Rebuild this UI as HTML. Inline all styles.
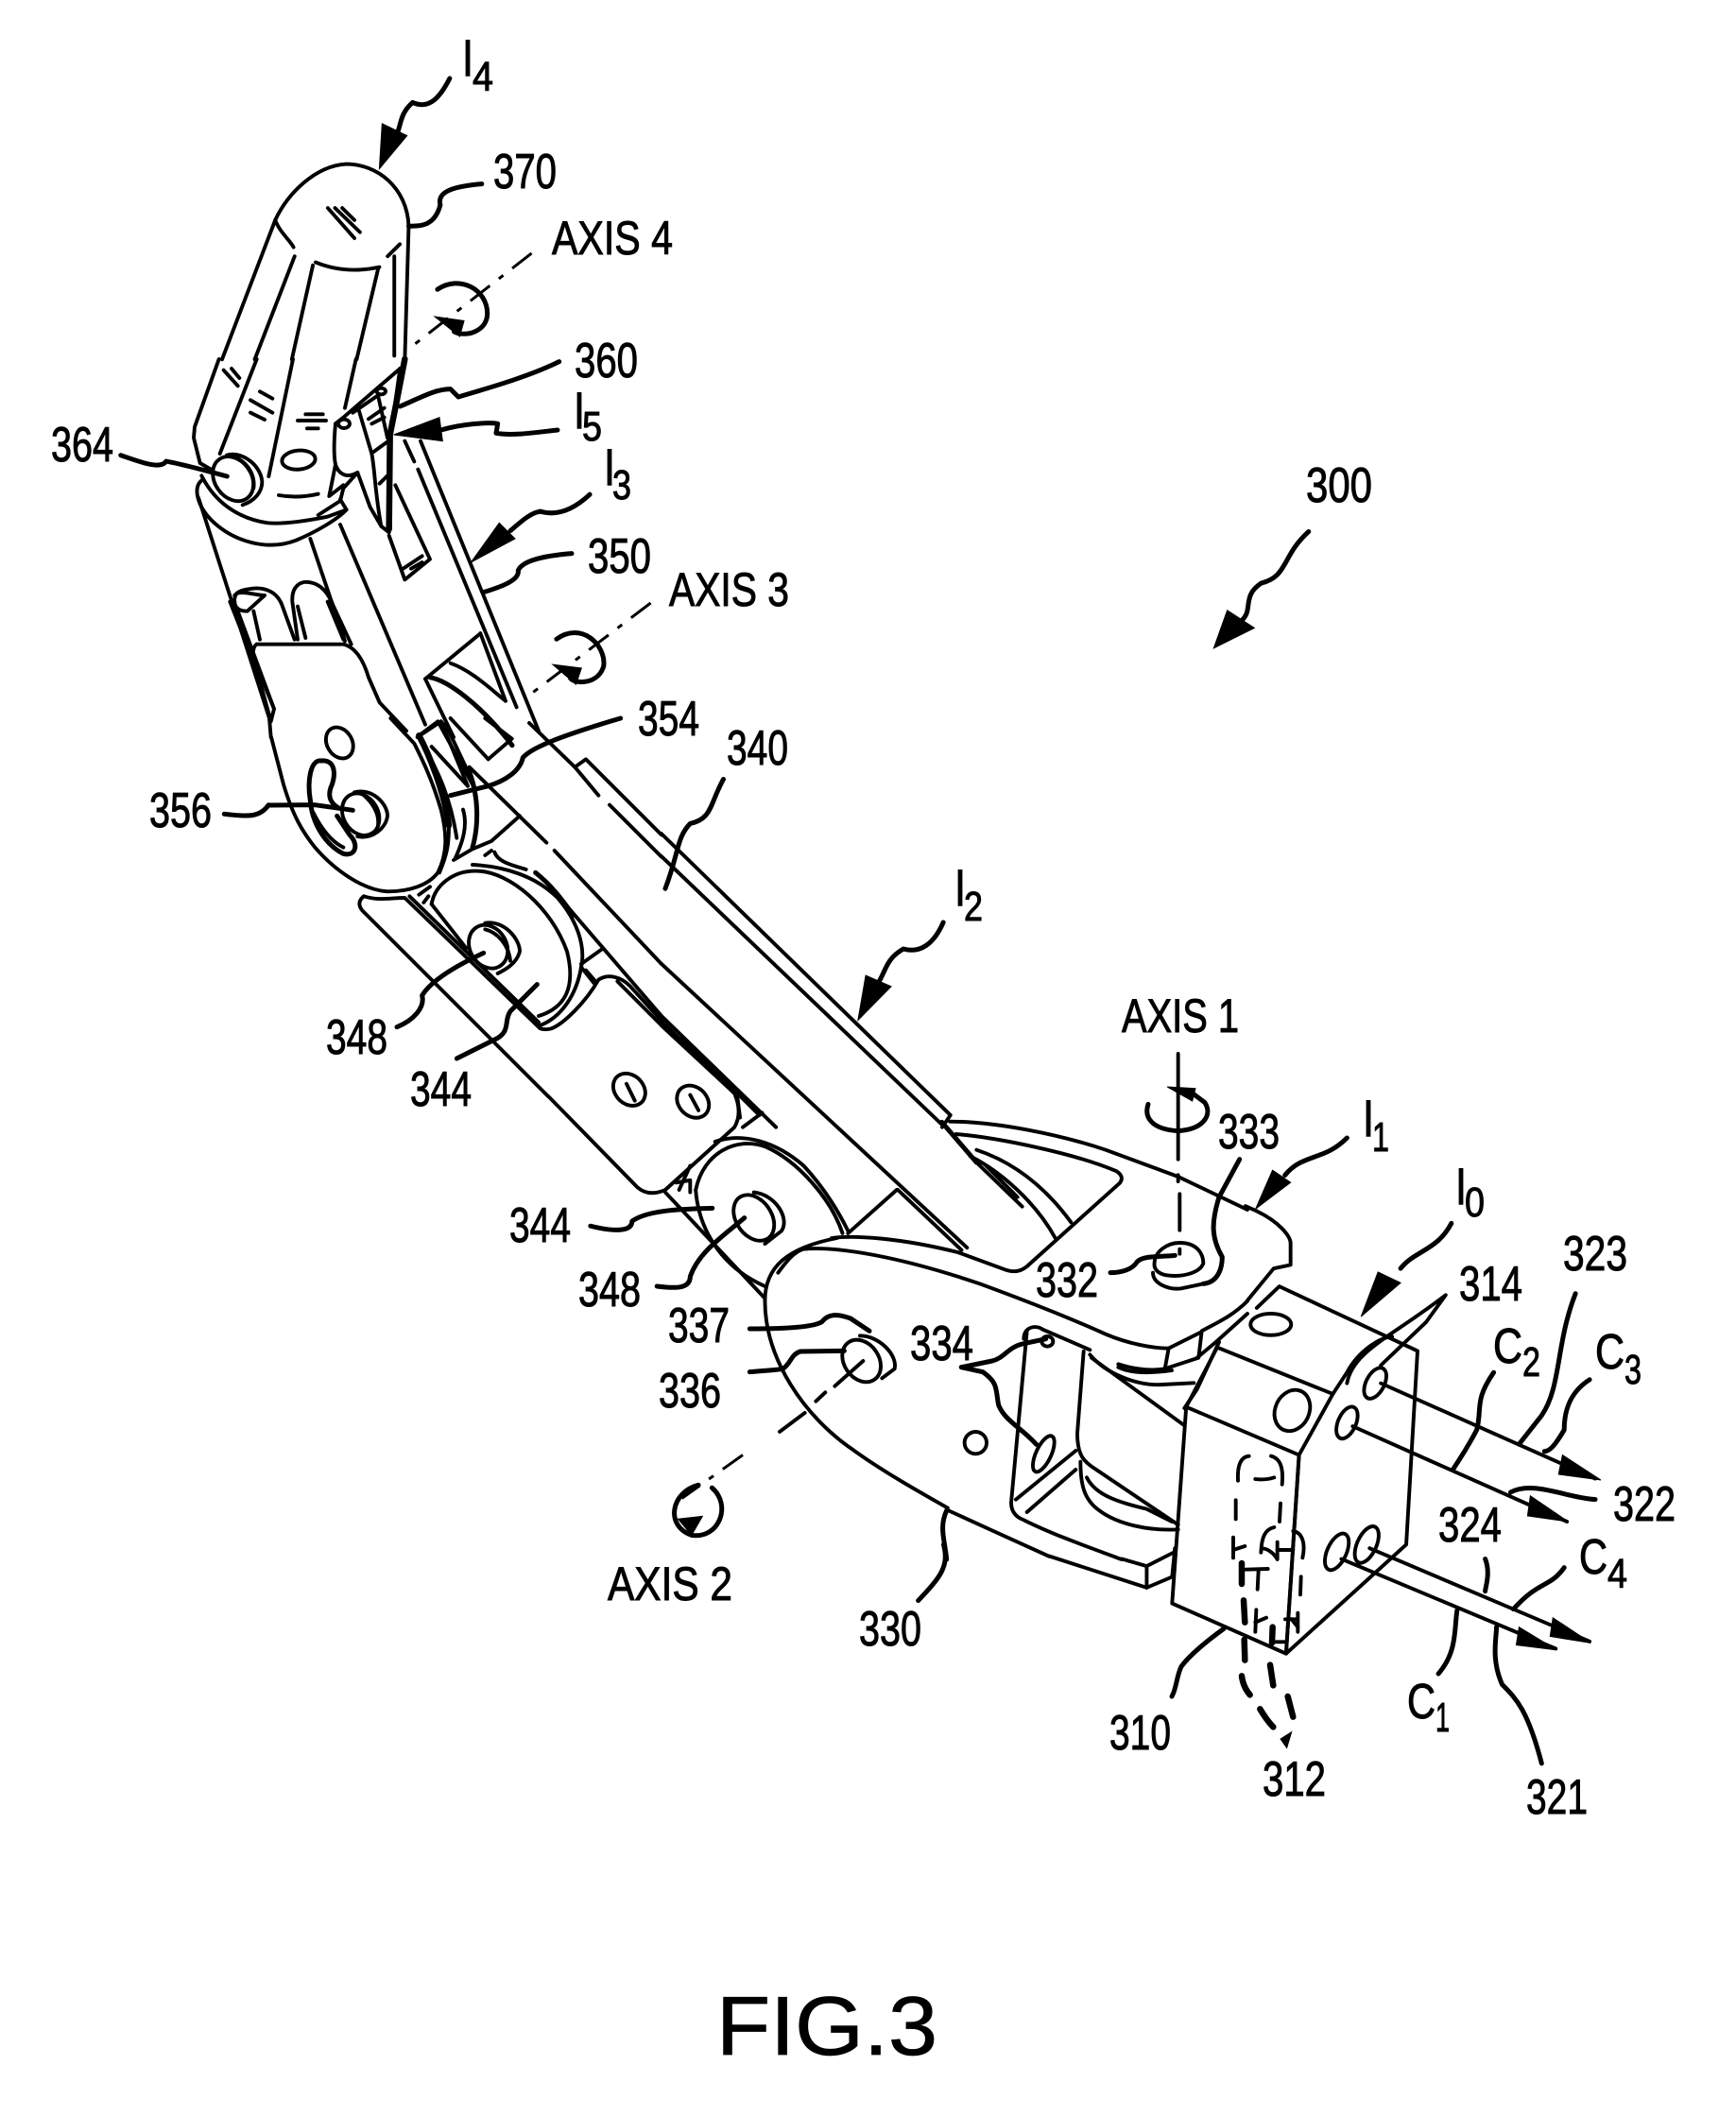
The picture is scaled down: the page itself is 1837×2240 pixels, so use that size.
<!DOCTYPE html>
<html><head><meta charset="utf-8"><style>
html,body{margin:0;padding:0;background:#fff}
svg{display:block}
path,line,ellipse,polyline{fill:none;stroke:#000;stroke-width:3.9;stroke-linecap:round;stroke-linejoin:round;vector-effect:non-scaling-stroke}
.f{fill:#fff}
.k{fill:#000;stroke:#000;stroke-width:1;vector-effect:non-scaling-stroke}
.d{stroke-dasharray:26 12 6 12;stroke-linecap:butt;stroke-width:3}
.t{stroke-width:5}
.m{stroke-width:6.5}
text{font-family:"Liberation Sans",sans-serif;font-size:52px;fill:#000;stroke:#000;stroke-width:1px}
text.s{font-size:44px}
text.a{font-size:50px}
text.fig{font-size:88px;stroke:#000;stroke-width:.8px}
</style></head><body>
<svg xmlns="http://www.w3.org/2000/svg" width="1837" height="2240" viewBox="0 0 1837 2240">
<rect width="1837" height="2240" fill="#fff"/>

<!-- upper finger -->
<g transform="scale(.586,.638)">
<path d="M401,596 L497,365 C520,320 570,275 625,272 C680,272 735,310 738,375 L731,596"/>
<path d="M497,365 C505,385 525,400 530,410"/>
<path d="M570,435 C610,450 650,450 685,443"/>
<path d="M700,425 L722,405"/>
<path d="M532,425 L460,596"/><path d="M565,440 L527,596"/><path d="M683,445 L644,596"/>
<path d="M712,425 L712,590"/>
<path d="M592,345 L640,395"/><path d="M605,345 L650,385"/><path d="M618,345 L640,365"/>
<path class="t" d="M812,130 C790,170 770,180 745,170 C720,190 725,210 715,225"/>
<polygon class="k" points="690,205 735,225 685,280"/>
<path class="t" d="M870,305 C810,310 790,320 795,340 C785,375 760,375 738,375"/>
<path class="d" d="M960,420 L750,570"/>
<path class="t" d="M790,480 C830,455 880,480 880,520 C880,550 840,560 820,550"/>
<polygon class="k" points="785,525 838,532 830,558"/>
<path class="t" d="M218,755 C250,765 290,780 300,765 C330,770 370,780 410,790"/>
<path class="t" d="M1065,820 C1030,850 1000,855 975,848"/>
<path class="d" d="M1175,1000 L960,1150"/>
<path class="t" d="M1005,1060 C1050,1030 1095,1070 1090,1105 C1080,1135 1040,1135 1030,1125"/>
<polygon class="k" points="998,1102 1050,1108 1040,1135"/>
<path class="t" d="M405,1350 C450,1355 470,1355 485,1335"/>
</g>

<!-- region A : link 3 -->
<g transform="translate(190,380) scale(.33333)">
<path d="M125,0 L48,215 L45,250 L65,330 L100,350"/>
<path d="M245,0 L128,300"/><path d="M360,0 L283,372"/><path d="M560,0 L525,155"/>
<path d="M140,35 L185,85"/><path d="M165,30 L190,60"/>
<path d="M255,103 L295,125"/><path d="M225,130 L295,170"/><path d="M225,170 L270,192"/>
<path d="M375,195 L465,195"/><path d="M400,175 L455,175"/><path d="M405,220 L440,220"/>
<ellipse cx="378" cy="320" rx="53" ry="30" transform="rotate(-5 378 320)"/>
<path d="M315,432 C360,440 400,437 440,428"/>
<ellipse cx="170" cy="380" rx="58" ry="76" transform="rotate(-35 170 380)"/>
<path d="M150,305 C200,290 260,340 262,390 C262,420 240,450 200,463"/>
<path d="M185,315 C220,335 240,370 235,410"/>
<path d="M70,385 C40,410 60,470 100,510 C170,580 280,610 370,575 C430,550 500,510 530,478 L510,445"/>
<path d="M70,370 C110,450 180,505 280,520 C340,525 420,510 470,500 L530,478"/>
<path d="M440,495 L510,450 L520,410 L565,360 L605,470 L640,530 L665,550"/>
<path d="M495,205 L520,185 L700,30"/>
<path d="M495,205 C490,260 490,310 495,335 C505,365 530,380 565,360"/>
<path d="M495,335 L475,435 L520,400"/>
<ellipse cx="522" cy="205" rx="18" ry="14"/>
<path d="M570,165 L610,300 C620,350 620,420 640,530"/>
<path d="M550,170 L630,115 L660,250"/>
<path d="M600,190 L650,155"/><path d="M610,205 L650,185"/>
<path d="M615,295 L670,255"/><path d="M635,395 L665,365"/>
<ellipse cx="640" cy="102" rx="14" ry="10"/>
<path d="M700,30 L670,240"/>
<path class="m" d="M715,0 L690,130 L668,240 L665,540"/>
<path d="M665,560 L715,700 L795,635 L685,400"/>
<path d="M710,665 L770,625"/><path d="M735,665 L770,645"/>
<path d="M765,260 L1140,1180"/>
<path d="M715,260 L745,325"/><path d="M757,350 L1070,1105"/>
<path d="M955,870 L1035,1085"/>
<polygon class="k" points="825,185 835,260 680,240"/>
<path class="t" d="M700,150 C760,125 810,95 860,95 L885,120 C950,100 1100,60 1205,8"/>
<path class="t" d="M830,225 C900,205 980,200 1010,205 L1005,235 C1060,245 1150,230 1200,225"/>
<polygon class="k" points="1015,520 1065,570 925,645"/>
<path class="t" d="M1050,545 C1090,510 1120,485 1145,484"/>
<path class="t" d="M965,740 C1030,720 1080,700 1075,670 C1090,640 1150,625 1245,617"/>
<path d="M60,440 L285,1140 L290,1200"/>
<path d="M160,770 L235,960"/>
<path d="M185,800 L300,1110 L290,1150 L235,950"/>
<path d="M175,790 C170,745 180,735 220,730 C270,720 310,740 325,780 L365,890"/>
<path d="M175,750 C190,730 240,750 270,750 L215,800 C190,800 175,790 175,770"/>
<path d="M235,800 L255,890"/>
<path d="M375,890 L358,770 C355,720 385,700 420,710 C460,720 480,760 490,790 L525,895"/>
<path d="M400,885 L375,785"/>
<path d="M475,755 L545,905"/><path d="M470,770 L520,890"/>
<path d="M415,570 L520,880"/>
<path d="M510,525 L780,1160"/>
<path d="M245,905 L520,905 C560,915 585,960 600,1010 L635,1090 L720,1180"/>
<path d="M245,905 Q230,915 235,950 L300,1110"/>
<path d="M780,1015 L950,875"/>
<path d="M780,1015 L870,1200"/>
<path class="t" d="M795,1010 C850,1020 950,1090 1056,1226"/>
<path d="M860,965 C930,990 990,1050 1035,1085"/>
<path d="M830,1150 L755,1200"/><path d="M830,1150 L870,1200"/>
</g>

<!-- region D : disc 1 -->
<g transform="translate(300,760) scale(.33333)">
<path d="M-39,60 L0,210 C30,310 60,360 100,410 C160,480 250,545 330,550 C400,550 460,530 490,490 C520,430 520,370 500,290 C470,190 440,130 415,80 L340,0"/>
<ellipse cx="178" cy="78" rx="40" ry="52" transform="rotate(-30 178 78)"/>
<path class="t" d="M85,260 C75,200 85,130 120,135 C170,130 165,190 150,220 C140,250 150,270 175,285"/>
<path class="t" d="M85,260 C90,330 130,400 190,430 C230,440 240,400 210,370 L170,310"/>
<path d="M95,300 C120,350 150,390 190,410"/>
<ellipse cx="245" cy="305" rx="55" ry="70" transform="rotate(-30 245 305)"/>
<path d="M225,235 C280,220 330,270 330,310 C325,350 280,385 235,375"/>
<path d="M250,240 C280,265 305,300 300,340"/>
<path class="t" d="M-45,276 L100,275 L220,292"/>
<path d="M430,55 L490,10 L600,210"/>
<path class="m" d="M430,55 C460,110 510,230 525,340"/>
<path d="M450,95 C490,170 530,250 550,380"/>
<path d="M470,90 L585,215"/><path d="M500,10 L585,215"/><path d="M520,30 L600,200"/>
<path class="t" d="M590,170 C620,250 620,340 600,410"/>
<path d="M570,290 C585,340 570,390 545,445"/>
<path d="M525,340 C525,400 520,430 495,490"/>
<path d="M540,450 L600,415 L660,390 L750,310"/>
<path class="t" d="M530,245 L650,215 C700,200 750,170 760,125 C790,90 900,50 1070,0"/>
<path d="M650,130 L725,65 L640,0"/><path d="M650,130 L530,0"/>
<path d="M780,15 L925,155"/>
<path d="M590,155 L835,395"/><path d="M860,420 L1200,780"/>
<path d="M925,155 L960,130 L1200,370"/><path d="M925,155 L1000,245"/><path d="M1035,275 L1200,440"/>
<path d="M470,590 C480,530 540,480 620,485 C720,490 850,600 900,740 C930,860 890,920 810,945"/>
<path d="M600,465 C700,470 800,500 870,570 C930,640 960,720 945,790 C930,880 880,950 815,975"/>
<path class="t" d="M800,490 C850,530 880,570 920,625"/>
<path d="M670,425 C680,455 720,465 770,480"/><path d="M660,420 L640,435"/>
<path d="M860,550 L1015,730 L1200,945"/><path d="M1015,730 L945,780"/>
<path d="M960,800 L990,835"/><path d="M945,790 L985,840"/>
<path d="M255,565 C300,580 340,570 385,570 L815,985 Q830,990 850,985 C890,970 960,900 1000,830 C1030,810 1070,820 1100,850 L1200,960"/>
<path d="M1060,835 L1200,975"/>
<path d="M400,565 L810,965"/><path d="M470,590 L580,730"/>
<path d="M255,565 Q230,585 250,610 L840,1200"/>
<path d="M430,560 L465,535"/><path d="M445,585 L460,565"/>
<ellipse cx="650" cy="725" rx="58" ry="72" transform="rotate(-30 650 725)"/>
<path d="M640,650 C700,640 750,700 750,740 C740,780 700,800 680,810"/>
<path d="M640,670 C680,680 715,720 720,770"/>
<path class="t" d="M360,980 C410,960 450,920 440,880 C470,830 560,780 635,745"/>
<path class="t" d="M550,1080 L680,1015 C720,990 700,960 720,930 L805,845"/>
</g>

<!-- crop 2 : link 2 -->
<g transform="translate(200,800) scale(.586,.51)">
<path d="M853,161 L1375,745 L1360,770"/>
<path d="M853,208 L1360,765"/>
<path d="M853,431 L1405,1020"/>
<path d="M1280,900 L1395,1025"/>
<path d="M1190,990 L1278,900"/>
<path d="M1000,770 L1035,740"/>
<path d="M853,539 L1060,770"/>
<path d="M890,585 L1030,745"/>
<path d="M649,706 L810,895 Q830,915 860,900 L985,770 Q1000,740 985,700 L853,549"/>
<path d="M853,559 L990,705 L995,750"/>
<ellipse cx="795" cy="692" rx="27" ry="35" transform="rotate(-28 795 692)"/>
<ellipse cx="910" cy="717" rx="27" ry="35" transform="rotate(-28 910 717)"/>
<path d="M790,680 L805,715"/><path d="M905,703 L920,735"/>
<path d="M915,900 C930,820 990,790 1040,810 C1100,840 1160,920 1180,990"/>
<path d="M950,800 C1000,780 1060,800 1110,850 C1150,900 1175,950 1190,985"/>
<path d="M915,900 C920,980 960,1060 1040,1100"/>
<path d="M860,905 L1040,1125"/>
<path d="M905,850 L885,900"/>
<path d="M880,885 L905,880 L905,905"/>
<ellipse cx="1020" cy="958" rx="33" ry="50" transform="rotate(-25 1020 958)"/>
<path d="M1020,905 C1060,910 1085,960 1070,985 L1040,1012"/>
<path d="M1040,1130 C1040,1250 1110,1370 1200,1440 C1260,1490 1340,1540 1370,1560"/>
<path d="M1040,1130 C1040,1060 1080,1020 1170,1000"/>
<path class="t" d="M965,48 C940,100 945,130 905,140 C880,170 885,200 860,275"/>
<path class="t" d="M1362,345 C1345,390 1320,410 1290,400 C1260,420 1260,440 1245,470"/>
<polygon class="k" points="1222,455 1268,478 1208,548"/>
<path class="t" d="M725,975 C760,985 800,990 800,965 C830,940 900,940 945,938"/>
<path class="t" d="M845,1100 C880,1105 905,1105 905,1080 C920,1030 960,1000 1003,958"/>
<path class="d" d="M1000,1450 L890,1540"/>
</g>

<!-- region C : fork -->
<g transform="translate(820,1150) scale(.33333)">
<path class="t" d="M530,112 L640,240"/>
<path d="M640,240 L785,380"/><path d="M670,250 L770,350"/>
<path d="M555,110 C700,110 900,150 1050,200 L1280,285 L1500,390"/>
<path d="M575,150 C700,160 950,210 1085,268 Q1110,285 1095,305 L800,570 Q770,595 730,580 L580,525 C400,480 250,470 180,480"/>
<path d="M640,200 C760,240 860,320 940,430"/>
<path d="M620,220 C720,270 830,370 890,480"/>
<path d="M10,590 C40,550 60,525 90,515 C200,505 400,540 650,625 C800,680 950,740 1050,785 C1120,815 1200,830 1250,830 L1350,780"/>
<path d="M1250,830 L1238,895 L1345,860 L1355,775 C1400,750 1450,730 1500,680"/>
<path d="M1500,720 L1400,810 L1340,860"/>
<path d="M1240,895 C1180,905 1120,890 1090,880"/>
<path d="M549,1344 C650,1390 780,1450 870,1490"/>
<ellipse cx="275" cy="870" rx="55" ry="72" transform="rotate(-35 275 870)"/>
<path d="M270,790 C330,790 390,850 380,895 L340,925"/>
<path d="M280,870 L190,950"/><path d="M160,970 L130,998"/><path d="M95,1035 L15,1095"/>
<path class="t" d="M-80,768 C60,768 130,760 150,745 C170,720 200,720 240,735 L300,775"/>
<path class="t" d="M-80,905 C-30,900 0,900 25,895 C50,880 50,850 80,840 L220,838"/>
<path d="M800,775 L750,1320 Q750,1360 790,1375 C900,1430 1050,1480 1100,1500"/>
<path d="M790,800 C790,760 830,755 850,770 L1000,835"/>
<ellipse cx="865" cy="808" rx="18" ry="16"/>
<path d="M980,840 L960,1100 C960,1170 980,1190 1020,1215 L1280,1390"/>
<path d="M970,1190 C970,1260 980,1310 1030,1345 C1090,1390 1190,1410 1280,1405"/>
<path d="M990,1240 C1020,1300 1100,1320 1180,1340 L1260,1380"/>
<path d="M765,1310 L955,1155"/><path d="M800,1350 L955,1215"/>
<ellipse cx="853" cy="1165" rx="24" ry="62" transform="rotate(25 853 1165)"/>
<ellipse cx="637" cy="1130" rx="35" ry="35"/>
<path class="t" d="M592,890 L690,870 C730,860 740,825 790,815 L860,800"/>
<path class="t" d="M592,890 L660,905 C710,940 700,960 710,1010 C730,1060 780,1080 830,1135"/>
<path d="M1000,850 C1050,910 1150,950 1230,945 L1330,940"/>
<path d="M1090,890 C1130,910 1190,910 1260,900"/>
<path d="M1005,860 L1300,1075"/>
<path d="M1410,810 L1340,960 L1300,1020"/>
<path d="M1205,570 C1200,520 1250,495 1285,495 C1340,495 1360,530 1360,560 C1350,590 1300,600 1270,600 C1230,600 1210,590 1205,570"/>
<path d="M1200,590 C1200,625 1250,645 1290,640 L1360,625"/>
<path class="t" d="M1360,625 C1410,620 1420,570 1420,540 C1385,480 1385,430 1410,350 L1475,230"/>
<path class="t" d="M1065,590 C1100,590 1135,580 1150,555 C1170,535 1220,540 1270,535"/>
<path d="M1280,-105 L1280,230"/><path d="M1280,280 L1280,300"/><path d="M1285,340 L1285,455"/><path d="M1285,515 L1285,530"/>
<path class="t" d="M1185,55 C1170,100 1200,135 1280,140 C1360,135 1390,90 1365,50 L1325,20"/>
<polygon class="k" points="1245,0 1335,5 1325,45"/>
<path class="t" d="M545,1345 C520,1400 540,1440 545,1500"/>
</g>

<!-- crop 3 : block -->
<g transform="translate(900,1050) scale(.597,.7589)">
<path d="M700,298 L720,305 C760,320 780,340 780,350 L780,380 L750,385 L703,430"/>
<path d="M352,786 L525,830 L570,815"/>
<path d="M481,790 L525,800"/>
<path d="M525,800 L525,830"/><path d="M525,800 L575,780"/><path d="M570,815 L575,775"/>
<path d="M595,578 L795,645 L772,922 L570,852 Z"/>
<path d="M595,578 L650,495 L855,560 L795,645"/>
<path d="M795,645 L772,922 L985,770 L1005,500 L760,410 L720,440"/>
<ellipse cx="745" cy="463" rx="36" ry="15"/>
<ellipse cx="783" cy="583" rx="33" ry="27" transform="rotate(-30 783 583)"/>
<path d="M855,560 L880,530 C900,500 940,480 960,480"/>
<path d="M880,545 C890,500 960,480 1055,422 L1020,460 L940,520"/>
<ellipse cx="930" cy="545" rx="25" ry="15" transform="rotate(-50 930 545)"/>
<ellipse cx="880" cy="600" rx="25" ry="15" transform="rotate(-55 880 600)"/>
<ellipse cx="862" cy="780" rx="29" ry="16" transform="rotate(-55 862 780)"/>
<ellipse cx="915" cy="770" rx="29" ry="16" transform="rotate(-55 915 770)"/>
<path d="M940,545 L1320,678"/>
<path d="M890,605 L1270,738"/>
<path d="M920,775 L1310,905"/>
<path d="M870,790 L1250,915"/>
<polygon class="k" points="1262,645 1330,680 1255,672"/>
<polygon class="k" points="1205,702 1272,738 1200,730"/>
<polygon class="k" points="1245,872 1312,907 1240,898"/>
<polygon class="k" points="1185,885 1252,917 1180,910"/>
<path class="t" d="M880,203 C840,235 800,225 770,255"/>
<polygon class="k" points="748,248 780,265 718,302"/>
<path class="t" d="M1065,322 C1040,360 1000,360 975,385"/>
<polygon class="k" points="935,390 975,405 905,452"/>
<path class="t" d="M120,848 C160,815 175,800 165,770"/>
<path class="t" d="M1140,530 C1105,570 1120,580 1110,610 C1090,640 1080,650 1068,665"/>
<path class="t" d="M1285,420 C1250,490 1260,550 1225,590 L1185,630"/>
<path class="t" d="M1310,540 C1270,560 1265,590 1265,610 C1250,630 1240,640 1230,640"/>
<path class="t" d="M1320,707 C1270,705 1210,680 1170,697"/>
<path class="t" d="M1125,790 C1135,810 1125,830 1125,835"/>
<path class="t" d="M1265,802 C1240,830 1220,820 1175,860"/>
<path class="t" d="M1042,950 C1075,920 1070,890 1075,862"/>
<path class="t" d="M1225,1075 C1200,1000 1180,985 1155,965 C1135,930 1145,900 1145,885"/>
</g>

<!-- region B : hidden lines -->
<g transform="translate(1240,1500) scale(.33333)">
<path d="M245,122 C215,125 208,160 210,200"/>
<path d="M315,122 C345,130 355,160 350,212"/>
<path d="M265,195 C290,198 310,195 325,190"/>
<path d="M203,262 L203,322"/><path d="M345,272 L342,330"/>
<path d="M325,348 C295,355 285,380 283,428"/>
<path d="M195,380 L195,445"/><path d="M195,420 L232,408"/>
<path d="M285,415 C310,415 330,440 335,450 L335,395"/>
<path d="M335,420 L385,420"/>
<path d="M385,360 C415,365 425,400 415,445"/>
<path class="m" d="M222,462 L222,528"/>
<path class="m" d="M228,580 L232,650"/>
<path d="M235,482 L305,480"/><path d="M275,485 L272,545"/>
<path d="M410,505 L408,562"/>
<path d="M268,610 L265,680"/><path d="M265,650 L300,635"/>
<path class="m" d="M320,665 L318,715"/>
<path d="M320,712 L360,712"/><path d="M360,640 L395,640"/><path d="M400,620 L400,680"/><path d="M380,640 L400,665"/>
<path class="m" d="M230,705 L232,770"/>
<path class="m" d="M222,820 C225,845 235,865 248,880"/>
<path class="m" d="M280,925 C295,950 310,970 322,982"/>
<path class="m" d="M312,785 L322,850"/>
<path class="m" d="M368,885 L385,950"/>
<polygon class="k" points="345,1020 380,998 365,1048"/>
<path class="t" d="M0,885 C15,860 15,820 30,790 C60,750 110,710 165,670"/>
</g>

<g transform="scale(1.435)">
<path class="t" d="M965,392 C945,410 950,425 930,430 C915,440 925,450 915,458"/>
<polygon class="k" points="905,450 925,463 895,478"/>
<path class="t" d="M515,1095 C495,1100 490,1125 510,1132 C530,1135 540,1110 525,1097"/>
<polygon class="k" points="500,1120 518,1118 510,1132"/>
</g>

<!-- labels -->
<text x="490" y="80" textLength="10" lengthAdjust="spacingAndGlyphs">l</text><text class="s" x="500" y="96" textLength="22" lengthAdjust="spacingAndGlyphs">4</text>
<text x="522" y="199" textLength="67" lengthAdjust="spacingAndGlyphs">370</text>
<text class="a" x="584" y="269" textLength="128" lengthAdjust="spacingAndGlyphs">AXIS 4</text>
<text x="608" y="399" textLength="67" lengthAdjust="spacingAndGlyphs">360</text>
<text x="608" y="453" textLength="10" lengthAdjust="spacingAndGlyphs">l</text><text class="s" x="616" y="466" textLength="21" lengthAdjust="spacingAndGlyphs">5</text>
<text x="640" y="513" textLength="10" lengthAdjust="spacingAndGlyphs">l</text><text class="s" x="648" y="528" textLength="20" lengthAdjust="spacingAndGlyphs">3</text>
<text x="622" y="606" textLength="67" lengthAdjust="spacingAndGlyphs">350</text>
<text class="a" x="708" y="641" textLength="127" lengthAdjust="spacingAndGlyphs">AXIS 3</text>
<text x="675" y="778" textLength="65" lengthAdjust="spacingAndGlyphs">354</text>
<text x="769" y="809" textLength="65" lengthAdjust="spacingAndGlyphs">340</text>
<text x="54" y="488" textLength="66" lengthAdjust="spacingAndGlyphs">364</text>
<text x="158" y="875" textLength="66" lengthAdjust="spacingAndGlyphs">356</text>
<text x="1011" y="958" textLength="10" lengthAdjust="spacingAndGlyphs">l</text><text class="s" x="1020" y="974" textLength="20" lengthAdjust="spacingAndGlyphs">2</text>
<text x="345" y="1115" textLength="65" lengthAdjust="spacingAndGlyphs">348</text>
<text x="434" y="1170" textLength="65" lengthAdjust="spacingAndGlyphs">344</text>
<text x="539" y="1314" textLength="65" lengthAdjust="spacingAndGlyphs">344</text>
<text x="612" y="1382" textLength="66" lengthAdjust="spacingAndGlyphs">348</text>
<text x="707" y="1420" textLength="65" lengthAdjust="spacingAndGlyphs">337</text>
<text x="697" y="1489" textLength="66" lengthAdjust="spacingAndGlyphs">336</text>
<text class="a" x="1187" y="1092" textLength="124" lengthAdjust="spacingAndGlyphs">AXIS 1</text>
<text x="1289" y="1215" textLength="65" lengthAdjust="spacingAndGlyphs">333</text>
<text x="1443" y="1202" textLength="10" lengthAdjust="spacingAndGlyphs">l</text><text class="s" x="1452" y="1218" textLength="18" lengthAdjust="spacingAndGlyphs">1</text>
<text x="1541" y="1274" textLength="10" lengthAdjust="spacingAndGlyphs">l</text><text class="s" x="1550" y="1287" textLength="21" lengthAdjust="spacingAndGlyphs">0</text>
<text x="1096" y="1372" textLength="66" lengthAdjust="spacingAndGlyphs">332</text>
<text x="963" y="1439" textLength="67" lengthAdjust="spacingAndGlyphs">334</text>
<text x="1544" y="1376" textLength="67" lengthAdjust="spacingAndGlyphs">314</text>
<text x="1654" y="1344" textLength="68" lengthAdjust="spacingAndGlyphs">323</text>
<text x="1580" y="1442" textLength="31" lengthAdjust="spacingAndGlyphs">C</text><text class="s" x="1611" y="1456" textLength="19" lengthAdjust="spacingAndGlyphs">2</text>
<text x="1688" y="1448" textLength="31" lengthAdjust="spacingAndGlyphs">C</text><text class="s" x="1719" y="1464" textLength="18" lengthAdjust="spacingAndGlyphs">3</text>
<text x="1707" y="1609" textLength="66" lengthAdjust="spacingAndGlyphs">322</text>
<text x="1522" y="1631" textLength="67" lengthAdjust="spacingAndGlyphs">324</text>
<text x="1671" y="1665" textLength="30" lengthAdjust="spacingAndGlyphs">C</text><text class="s" x="1701" y="1680" textLength="21" lengthAdjust="spacingAndGlyphs">4</text>
<text x="1489" y="1818" textLength="30" lengthAdjust="spacingAndGlyphs">C</text><text class="s" x="1519" y="1832" textLength="15" lengthAdjust="spacingAndGlyphs">1</text>
<text x="1615" y="1919" textLength="65" lengthAdjust="spacingAndGlyphs">321</text>
<text x="1174" y="1851" textLength="65" lengthAdjust="spacingAndGlyphs">310</text>
<text x="1336" y="1900" textLength="67" lengthAdjust="spacingAndGlyphs">312</text>
<text x="909" y="1741" textLength="66" lengthAdjust="spacingAndGlyphs">330</text>
<text class="a" x="643" y="1693" textLength="132" lengthAdjust="spacingAndGlyphs">AXIS 2</text>
<text x="1382" y="531" textLength="70" lengthAdjust="spacingAndGlyphs">300</text>
<text class="fig" x="758" y="2174" textLength="234" lengthAdjust="spacingAndGlyphs">FIG.3</text>
</svg>
</body></html>
